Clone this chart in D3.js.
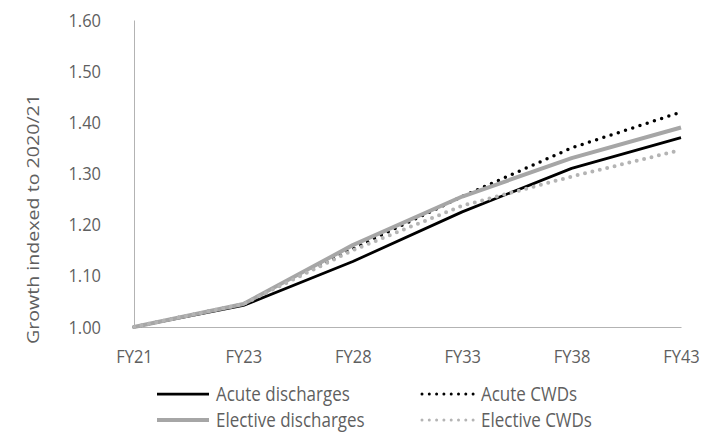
<!DOCTYPE html>
<html>
<head>
<meta charset="utf-8">
<script src="https://cdn.jsdelivr.net/npm/d3@7"></script>
<style>
  html, body { margin: 0; padding: 0; background: #fff; }
  svg { display: block; font-family: "Open Sans", "Noto Sans", sans-serif; font-weight: 400; }
  text { fill: #5f5f5f; }
</style>
</head>
<body>
<svg id="chart" width="704" height="432"></svg>
<script>
// Financial years on the x axis
const years = ["FY21", "FY23", "FY28", "FY33", "FY38", "FY43"];

// Growth indexed to 2020/21
const acuteDischarges    = [1.00, 1.042, 1.128, 1.225, 1.310, 1.370];
const acuteCWDs          = [1.00, 1.045, 1.153, 1.255, 1.350, 1.420];
const electiveDischarges = [1.00, 1.045, 1.160, 1.255, 1.330, 1.390];
const electiveCWDs       = [1.00, 1.045, 1.150, 1.237, 1.294, 1.346];

const yTicks = [1.00, 1.10, 1.20, 1.30, 1.40, 1.50, 1.60];

const seriesNames = ["Acute discharges", "Acute CWDs", "Elective discharges", "Elective CWDs"];

const styles = {
  "Acute discharges":    { color: "#000000", width: 2.75, dash: null },
  "Acute CWDs":          { color: "#000000", width: 3.5,  dash: "0 7.6" },
  "Elective discharges": { color: "#a6a6a6", width: 4,    dash: null },
  "Elective CWDs":       { color: "#b4b4b4", width: 4,    dash: "0 7.6" }
};

const series = [
  { name: seriesNames[0], values: acuteDischarges },
  { name: seriesNames[1], values: acuteCWDs },
  { name: seriesNames[2], values: electiveDischarges },
  { name: seriesNames[3], values: electiveCWDs }
];

const FS = 16.5;        // axis label font size
const LEGEND_FS = 17;   // legend font size
const STRETCH = 1.15;   // glyphs are drawn slightly tall

const svg = d3.select("#chart");
const plot = { left: 134, right: 681, top: 20, bottom: 327 };

const x = d3.scalePoint().domain(years).range([plot.left, plot.right]);
const y = d3.scaleLinear().domain([1.0, 1.6]).range([plot.bottom, plot.top]);

// Axes
const yAxis = svg.append("g")
  .attr("transform", `translate(${plot.left},0)`)
  .call(d3.axisLeft(y).tickValues(yTicks).tickFormat(d3.format(".2f")).tickSize(0).tickPadding(33))
  .attr("font-family", null).attr("font-size", null);
yAxis.select(".domain").attr("stroke", "#b3b3b3").attr("stroke-width", 1);
yAxis.selectAll("text")
  .attr("font-size", FS).attr("fill", "#5f5f5f")
  .attr("transform", `scale(1,${STRETCH})`);

const xPad = 23;
const xAxis = svg.append("g")
  .attr("transform", `translate(0,${plot.bottom})`)
  .call(d3.axisBottom(x).tickSize(0).tickPadding(xPad))
  .attr("font-family", null).attr("font-size", null);
xAxis.select(".domain").attr("stroke", "#b3b3b3").attr("stroke-width", 1);
const xc = xPad + 0.36 * FS;
xAxis.selectAll("text")
  .attr("font-size", FS).attr("fill", "#5f5f5f")
  .attr("transform", `translate(0,${xc}) scale(1,${STRETCH}) translate(0,${-xc})`);

// Y axis title
svg.append("text")
  .attr("transform", "translate(39,219) rotate(-90)")
  .attr("text-anchor", "middle")
  .attr("font-size", 16)
  .attr("textLength", 250)
  .attr("lengthAdjust", "spacingAndGlyphs")
  .text("Growth indexed to  2020/21");

// Lines
const line = d3.line()
  .x((d, i) => x(years[i]))
  .y(d => y(d));

svg.append("g").selectAll("path")
  .data(series)
  .join("path")
  .attr("d", d => line(d.values))
  .attr("fill", "none")
  .attr("stroke", d => styles[d.name].color)
  .attr("stroke-width", d => styles[d.name].width)
  .attr("stroke-dasharray", d => styles[d.name].dash)
  .attr("stroke-linecap", d => styles[d.name].dash ? "round" : "butt")
  .attr("stroke-linejoin", "round");

// Legend (two rows, two columns)
const legendItems = [
  { name: seriesNames[0], lx: 157, ly: 394 },
  { name: seriesNames[1], lx: 422, ly: 394 },
  { name: seriesNames[2], lx: 157, ly: 420 },
  { name: seriesNames[3], lx: 422, ly: 420 }
];
const legend = svg.append("g");
legendItems.forEach(it => {
  const s = styles[it.name];
  legend.append("line")
    .attr("x1", it.lx).attr("x2", it.lx + 52)
    .attr("y1", it.ly).attr("y2", it.ly)
    .attr("stroke", s.color)
    .attr("stroke-width", s.dash ? 3 : (it.name === "Elective discharges" ? 4 : 2.75))
    .attr("stroke-dasharray", s.dash ? "0 7.3" : null)
    .attr("stroke-linecap", s.dash ? "round" : "butt");
  legend.append("text")
    .attr("x", it.lx + 59)
    .attr("y", it.ly)
    .attr("dy", "0.35em")
    .attr("font-size", LEGEND_FS)
    .attr("transform", `translate(0,${it.ly}) scale(1,${STRETCH}) translate(0,${-it.ly})`)
    .text(it.name);
});
</script>
</body>
</html>
